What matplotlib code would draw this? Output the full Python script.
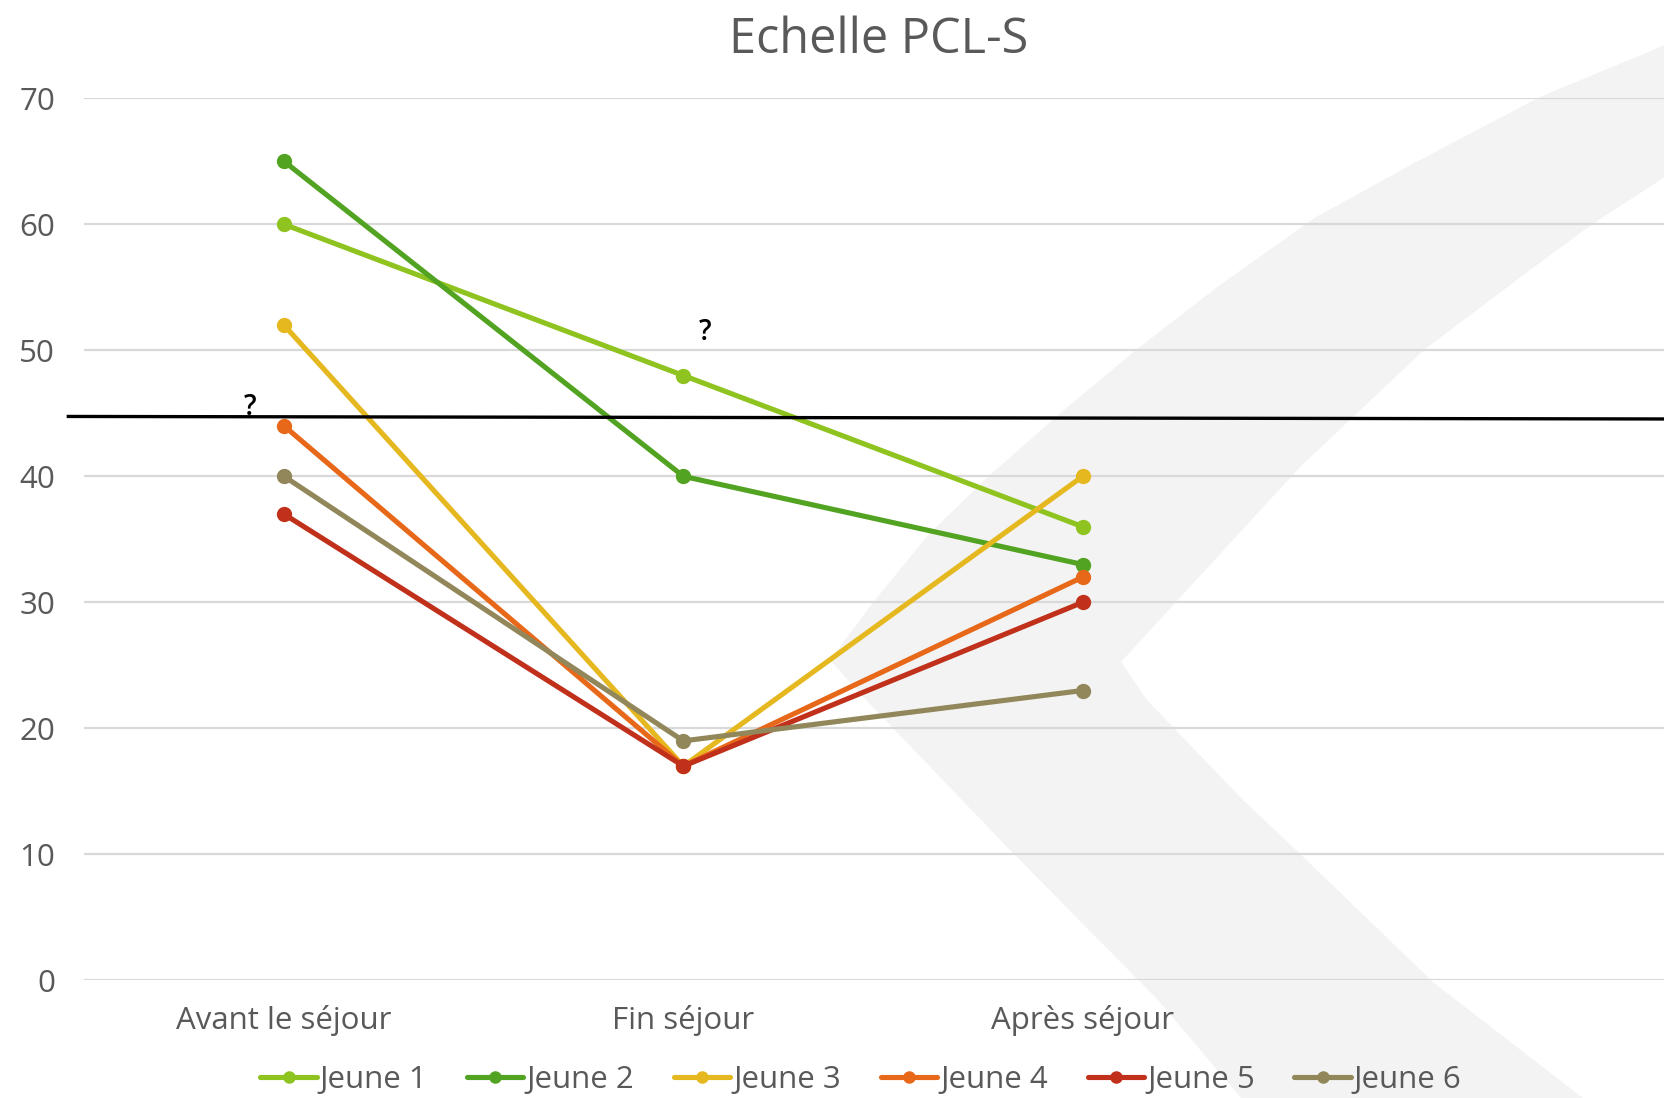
import numpy as np
import matplotlib.pyplot as plt
from matplotlib.patches import Polygon

# ============================================================
# Data
# ============================================================
periods = ["Avant le séjour", "Fin séjour", "Après séjour"]
names = ["Jeune 1", "Jeune 2", "Jeune 3", "Jeune 4", "Jeune 5", "Jeune 6"]

jeune1 = [60, 48, 36]
jeune2 = [65, 40, 33]
jeune3 = [52, 17, 40]
jeune4 = [44, 17, 32]
jeune5 = [37, 17, 30]
jeune6 = [40, 19, 23]
series = [jeune1, jeune2, jeune3, jeune4, jeune5, jeune6]

colors = ["#8fc31f", "#52a322", "#e6b820", "#e8681a", "#c0301a", "#91875a"]

# threshold line (hand drawn, slightly tilted)
seuil_left = 44.75
seuil_right = 44.55

yticks = [0, 10, 20, 30, 40, 50, 60, 70]

W, H = 1665, 1098
plt.rcParams["font.family"] = ["Open Sans", "DejaVu Sans"]
txt_col = "#595959"

fig = plt.figure(figsize=(W / 100, H / 100), dpi=100)
ax = fig.add_axes([84.3 / W, 1 - 980.3 / H, (W - 84.3) / W, (980.3 - 98.3) / H])
ax.patch.set_alpha(0)

# background chevron watermark (pixel coords of the slide)
chev = [(1665, 45), (1540, 97), (1420, 160), (1316, 217), (1220, 285),
        (1136, 350), (1064, 410), (990, 475), (930, 533), (875, 600),
        (830, 660), (866, 700), (1010, 850), (1158, 1000), (1241, 1098),
        (1583, 1098), (1434, 983), (1296, 850), (1243, 800), (1147, 700),
        (1121, 662), (1210, 565), (1300, 467), (1424, 350), (1530, 270),
        (1594, 223), (1665, 177)]
chev = [(x / W, 1 - y / H) for x, y in chev]
fig.patches.append(Polygon(chev, closed=True, transform=fig.transFigure,
                           facecolor="#f3f3f3", edgecolor="none", zorder=-5))

x = np.arange(len(periods))
for name, vals, c in zip(names, series, colors):
    ax.plot(x, vals, color=c, linewidth=3.7, marker="o", markersize=10,
            label=name, solid_capstyle="round", zorder=3)

ax.plot([-0.54, 3.46], [seuil_left, seuil_right], color="black",
        linewidth=2.4, clip_on=False, zorder=4)

ax.text(-0.085, 44.3, "?", fontsize=20, ha="center", va="bottom",
        color="black", fontweight="semibold")
ax.text(1.054, 50.3, "?", fontsize=20, ha="center", va="bottom",
        color="black", fontweight="semibold")

ax.set_xlim(-0.5, 3.458)
ax.set_ylim(0, 70)
ax.set_yticks(yticks)
ax.set_xticks(x)
ax.set_xticklabels(periods)
ax.tick_params(axis="both", length=0, labelsize=22.5, labelcolor=txt_col)
ax.tick_params(axis="y", pad=21)
ax.tick_params(axis="x", pad=18)
for s in ax.spines.values():
    s.set_visible(False)
ax.grid(axis="y", color="#d9d9d9", linewidth=1.6)
ax.set_axisbelow(True)

fig.text(878.5 / W, 1 - 40 / H, "Echelle PCL-S", fontsize=35, color=txt_col,
         ha="center", va="center")

leg = fig.legend(loc="center", bbox_to_anchor=(861 / W, 1 - 1080 / H), ncol=6,
                 frameon=False, fontsize=22.5, handlelength=1.8,
                 handletextpad=0.1, columnspacing=1.27, markerscale=0.8)
for t in leg.get_texts():
    t.set_color(txt_col)

fig.savefig("out.png", dpi=100)
